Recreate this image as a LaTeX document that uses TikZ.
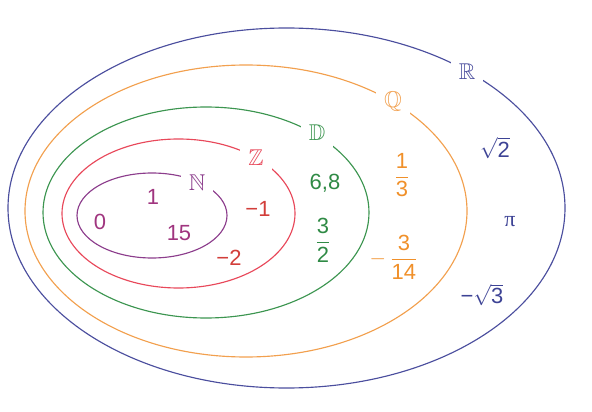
\documentclass[tikz,border=0pt]{standalone}
\usepackage{amsmath, amssymb}
\usepackage{fontspec}
\setmainfont{Liberation Sans}
\newfontfamily\pifont{Liberation Serif}
\usepackage{tikz}
\usetikzlibrary{positioning}
\definecolor{setblue}{HTML}{4B4E9E}
\definecolor{setorange}{HTML}{F2A04E}
\definecolor{setgreen}{HTML}{3C9550}
\definecolor{setred}{HTML}{E8485A}
\definecolor{setpurple}{HTML}{8C3D8C}
\definecolor{txtpurple}{HTML}{A0357F}
\definecolor{txtred}{HTML}{D23E3A}
\definecolor{txtgreen}{HTML}{2F8A45}
\definecolor{txtorange}{HTML}{F0902A}
\definecolor{txtblue}{HTML}{3D4395}
\tikzset{
  setline/.style={line width=0.65pt},
  setname/.style={fill=white,inner sep=4.5pt,font=\fontsize{13}{15}\selectfont},
  elem/.style={inner sep=1pt,font=\fontsize{12.5}{14}\selectfont},
}

\begin{document}
\begin{tikzpicture}[x=0.02cm,y=-0.02cm]
  \useasboundingbox (0,0) rectangle (592,412);
  % nested sets
  \draw[setline,setblue] (286.5,208) ellipse [x radius=278.5,y radius=180];
  \draw[setline,setorange] (246,211) ellipse [x radius=221,y radius=146];
  \draw[setline,setgreen] (206,212.5) ellipse [x radius=163,y radius=105.5];
  \draw[setline,setred] (178.5,213.5) ellipse [x radius=116.5,y radius=74.5];
  \draw[setline,setpurple] (152,215.5) ellipse [x radius=75,y radius=42.5];
  % set names
  \node[setname,text=setblue] (nameR) at (467,72) {$\mathbb{R}$};
  \node[setname,text=setorange] (nameQ) at (393,102) {$\mathbb{Q}$};
  \node[setname,text=setgreen] (nameD) at (317,133) {$\mathbb{D}$};
  \node[setname,text=setred] (nameZ) at (256,158) {$\mathbb{Z}$};
  \node[setname,text=setpurple] (nameN) at (197,183) {$\mathbb{N}$};
  % elements
  \node[elem,text=txtpurple] (eZero) at (100,222) {0};
  \node[elem,text=txtpurple] (eOne) at (153,197) {1};
  \node[elem,text=txtpurple] (eFifteen) at (179,233) {15};
  \node[elem,text=txtred] (eMinusOne) at (258,209) {−1};
  \node[elem,text=txtred] (eMinusTwo) at (229,258) {−2};
  \node[elem,text=txtgreen] (eDec) at (325,183) {6,8};
  \node[elem,text=txtgreen] (eThreeHalves) at (323,240) {$\dfrac{\text{3}}{\text{2}}$};
  \node[elem,text=txtorange] (eThird) at (402,175) {$\dfrac{\text{1}}{\text{3}}$};
  \node[elem,text=txtorange] (eNegFrac) at (394,257) {$-\,\dfrac{\text{3}}{\text{14}}$};
  \node[elem,text=txtblue] (eRootTwo) at (495,148) {$\sqrt{\text{2}}$};
  \node[elem,text=txtblue] (ePi) at (510,222) {\pifont π};
  \node[elem,text=txtblue] (eRootThree) at (482,295) {−$\sqrt{\text{3}}$};
\end{tikzpicture}
\end{document}
